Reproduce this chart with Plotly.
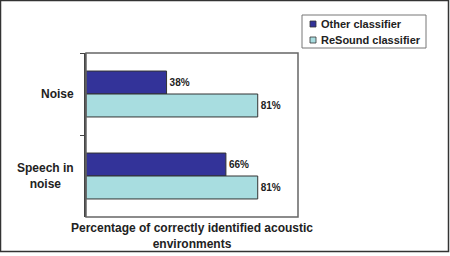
import plotly.graph_objects as go

categories = ["Noise", "Speech in<br>noise"]
series_names = ["Other classifier", "ReSound classifier"]
series_colors = ["#333399", "#a8dde0"]
other_values = [38, 66]
resound_values = [81, 81]
value_labels_other = ["38%", "66%"]
value_labels_resound = ["81%", "81%"]
x_title = "Percentage of correctly identified acoustic<br>environments"

W, H = 450, 256
L, R, T, B = 86, 152, 53, 39
PW, PH = W - L - R, H - T - B
FONT = "Liberation Sans, Arial, sans-serif"


def px(x):
    return (x - L) / PW


def py(y):
    return 1 - (y - T) / PH


fig = go.Figure()
fig.add_trace(go.Bar(
    y=categories, x=other_values, name=series_names[0], orientation="h",
    marker=dict(color=series_colors[0], line=dict(color="#333333", width=1)),
    text=["<b>%s</b>" % t for t in value_labels_other], textposition="outside",
    cliponaxis=False,
    textfont=dict(family=FONT, size=10, color="#222222"),
))
fig.add_trace(go.Bar(
    y=categories, x=resound_values, name=series_names[1], orientation="h",
    marker=dict(color=series_colors[1], line=dict(color="#333333", width=1)),
    text=["<b>%s</b>" % t for t in value_labels_resound], textposition="outside",
    cliponaxis=False,
    textfont=dict(family=FONT, size=10, color="#222222"),
))

for c in categories:
    fig.add_annotation(
        x=0, xref="paper", y=c, yref="y", text="<b>%s</b>" % c,
        xanchor="right", xshift=-10, align="center", showarrow=False,
        font=dict(family=FONT, size=12, color="#222222"),
    )

# outer frame
fig.add_shape(type="rect", xref="paper", yref="paper",
              x0=px(0.5), x1=px(448.5), y0=py(251.5), y1=py(0.5),
              line=dict(color="#333333", width=1.5), layer="below")
# plot area border
fig.add_shape(type="rect", xref="paper", yref="paper", x0=0, x1=1, y0=0, y1=1,
              line=dict(color="#666666", width=1.5), layer="above")

# legend box (drawn manually for compact layout)
fig.add_shape(type="rect", xref="paper", yref="paper",
              x0=px(302), x1=px(426), y0=py(48), y1=py(15),
              line=dict(color="#777777", width=1), fillcolor="white")
for i, (name, col) in enumerate(zip(series_names, series_colors)):
    cy = 24 + 16 * i
    fig.add_shape(type="rect", xref="paper", yref="paper",
                  x0=px(310), x1=px(316), y0=py(cy + 3), y1=py(cy - 3),
                  line=dict(color="#333333", width=0.8), fillcolor=col)
    fig.add_annotation(x=px(319), y=py(cy), xref="paper", yref="paper",
                       text="<b>%s</b>" % name, xanchor="left", yanchor="middle",
                       showarrow=False,
                       font=dict(family=FONT, size=11, color="#222222"))

fig.update_layout(
    width=W, height=H,
    margin=dict(l=L, r=R, t=T, b=B, autoexpand=False),
    paper_bgcolor="white", plot_bgcolor="white",
    barmode="group", bargap=0.44, bargroupgap=0,
    font=dict(family=FONT, color="#222222"),
    showlegend=False,
    xaxis=dict(range=[0, 100], showticklabels=False, showgrid=False,
               zeroline=False, showline=False, ticks="",
               title=dict(text="<b>" + x_title + "</b>", standoff=6,
                          font=dict(family=FONT, size=12, color="#222222"))),
    yaxis=dict(autorange="reversed", showticklabels=False, showgrid=False,
               ticks="outside", ticklen=4, tickcolor="#444444",
               tickson="boundaries", showline=True, linecolor="#444444",
               linewidth=1.5),
)

fig.write_html("out.html")
